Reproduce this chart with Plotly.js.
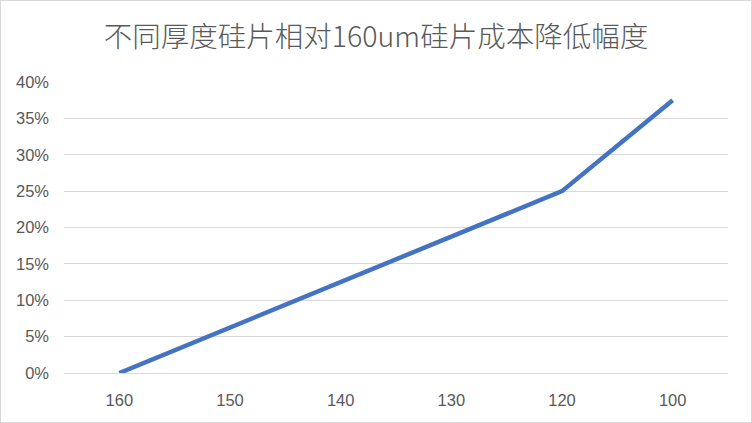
<!DOCTYPE html>
<html><head><meta charset="utf-8">
<script src="https://cdn.plot.ly/plotly-3.0.1.min.js"></script>
<style>html,body{margin:0;padding:0;background:#fff;}#wrap{position:relative;width:752px;height:423px;}#frame{position:absolute;left:0;top:0;width:750px;height:421px;border:1px solid #d9d9d9;pointer-events:none;}</style>
</head><body>
<div id="wrap"><div id="chart" style="width:752px;height:423px;"></div><div id="frame"></div></div>
<script>
var categories = ['160','150','140','130','120','100'];
var values = [0, 0.0625, 0.125, 0.1875, 0.25, 0.375];
var titleText = '不同厚度硅片相对160um硅片成本降低幅度';

var trace = {x: categories, y: values, type: 'scatter', mode: 'lines',
  line: {color: '#4472C4', width: 4.5}, hoverinfo: 'skip'};
var layout = {
  width: 752, height: 423,
  margin: {l: 64, r: 24, t: 82, b: 50},
  paper_bgcolor: '#fff', plot_bgcolor: '#fff',
  title: {text: titleText, x: 0.5, xanchor: 'center', y: 0.912, yanchor: 'middle',
    font: {family: '"Noto Sans CJK SC", "Noto Sans", sans-serif', size: 28.5, color: '#595959', weight: 300}},
  xaxis: {type: 'category', range: [-0.5, 5.5], showgrid: false, zeroline: false,
    showline: true, linecolor: '#d9d9d9', linewidth: 1, ticks: '', ticklabelstandoff: 12,
    tickfont: {family: '"Liberation Sans", "Noto Sans", sans-serif', size: 16.5, color: '#595959'}},
  yaxis: {range: [0, 0.4], dtick: 0.05, tickformat: '.0%', showgrid: true, gridcolor: '#d9d9d9',
    gridwidth: 1, zeroline: false, showline: false, ticks: '', ticklen: 0, ticklabelstandoff: 14,
    tickfont: {family: '"Liberation Sans", "Noto Sans", sans-serif', size: 16.5, color: '#595959'}},
  showlegend: false
};
Plotly.newPlot('chart', [trace], layout, {displayModeBar: false, staticPlot: true});
</script>
</body></html>
